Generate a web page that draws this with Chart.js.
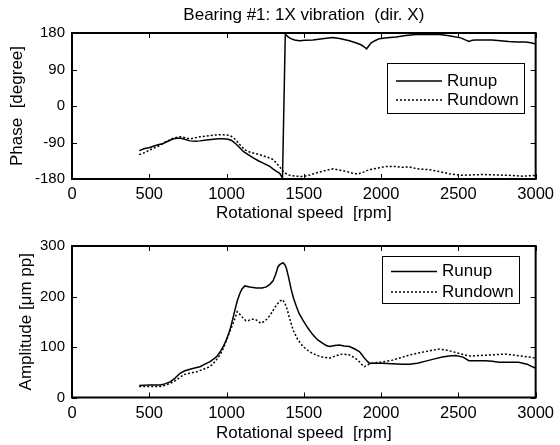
<!DOCTYPE html>
<html>
<head>
<meta charset="utf-8">
<script src="https://cdn.jsdelivr.net/npm/chart.js@4.4.0/dist/chart.umd.min.js"></script>
<style>
  body { margin: 0; background: #fff; }
  #wrap { position: relative; width: 560px; height: 445px; }
  .panel { position: absolute; left: 0; width: 560px; height: 225px; }
</style>
</head>
<body>
<div id="wrap">
  <div class="panel" style="top:0"><canvas id="phase-chart" width="560" height="225"></canvas></div>
  <div class="panel" style="top:220px"><canvas id="amp-chart" width="560" height="225"></canvas></div>
</div>
<script>
// tick values
const speedTicks = [0, 500, 1000, 1500, 2000, 2500, 3000];
const phaseTicks = [-180, -90, 0, 90, 180];
const ampTicks = [0, 100, 200, 300];

// phase, runup
const runupPhaseRpm = [435, 470, 499, 535, 564, 586, 620, 656, 699, 730, 764, 800, 828, 870, 914, 950, 979, 1010, 1033, 1065, 1090, 1108, 1140, 1173, 1205, 1237, 1260, 1280, 1300, 1323, 1344, 1362, 1380, 1400, 1416, 1440, 1472, 1510, 1559, 1620, 1687, 1740, 1795, 1835, 1870, 1890, 1906, 1920, 1934, 1960, 1988, 2040, 2096, 2160, 2225, 2311, 2380, 2440, 2515, 2545, 2568, 2590, 2611, 2660, 2719, 2770, 2826, 2880, 2933, 2970, 3000];
const runupPhaseDeg = [-110, -105, -103, -98, -95, -93, -87, -81, -79, -82, -86, -87, -86, -84, -82, -81, -81, -82, -85, -95, -105, -112, -120, -128, -135, -141, -145, -149, -155, -161, -166, -178, 177, 170, 166, 163, 161, 162, 163, 166, 169, 166, 161, 156, 151, 146, 141, 148, 155, 161, 166, 168, 170, 174, 176, 177, 176, 173, 168, 163, 159, 162, 163, 163, 163, 161, 159, 158, 158, 156, 153];

// phase, rundown
const rundownPhaseRpm = [435, 470, 499, 535, 564, 600, 630, 656, 699, 730, 764, 800, 828, 870, 914, 950, 979, 1010, 1033, 1055, 1076, 1100, 1119, 1145, 1173, 1205, 1237, 1270, 1301, 1323, 1344, 1366, 1390, 1409, 1450, 1494, 1540, 1580, 1630, 1687, 1730, 1773, 1810, 1848, 1885, 1924, 1980, 2031, 2090, 2139, 2182, 2235, 2311, 2380, 2440, 2515, 2580, 2654, 2740, 2826, 2911, 2960, 3000];
const rundownPhaseDeg = [-120, -115, -109, -103, -98, -90, -84, -79, -76, -78, -81, -78, -76, -74, -72, -71, -71, -72, -75, -82, -91, -101, -108, -113, -116, -119, -123, -127, -132, -141, -150, -161, -168, -171, -173, -174, -170, -165, -160, -155, -158, -161, -165, -168, -163, -157, -153, -149, -149, -151, -150, -155, -157, -162, -167, -171, -170, -169, -170, -171, -173, -172, -171];

// amplitude, runup
const runupAmpRpm = [435, 500, 571, 600, 635, 665, 699, 730, 764, 800, 828, 860, 893, 915, 936, 958, 979, 1000, 1022, 1040, 1054, 1070, 1086, 1100, 1118, 1150, 1194, 1230, 1258, 1280, 1301, 1318, 1333, 1344, 1365, 1377, 1387, 1400, 1419, 1435, 1452, 1470, 1494, 1525, 1559, 1590, 1623, 1645, 1666, 1700, 1731, 1760, 1795, 1830, 1859, 1875, 1892, 1910, 1924, 1960, 2010, 2070, 2139, 2182, 2235, 2289, 2340, 2396, 2440, 2483, 2530, 2568, 2620, 2676, 2720, 2762, 2830, 2890, 2944, 2970, 3000];
const runupAmpUm = [24, 25, 25, 27, 31, 38, 48, 53, 56, 59, 61, 66, 71, 76, 81, 90, 101, 115, 134, 155, 173, 192, 206, 215, 221, 219, 217, 217, 219, 224, 231, 244, 259, 263, 267, 263, 256, 240, 213, 195, 180, 166, 153, 138, 124, 114, 107, 103, 101, 103, 104, 102, 101, 96, 91, 85, 78, 72, 68, 68, 68, 67, 66, 66, 68, 72, 76, 80, 82, 83, 80, 73, 73, 73, 72, 70, 70, 70, 66, 62, 58];

// amplitude, rundown
const rundownAmpRpm = [435, 500, 571, 610, 657, 690, 721, 760, 807, 850, 893, 925, 957, 980, 1000, 1020, 1043, 1058, 1069, 1085, 1108, 1125, 1140, 1160, 1183, 1200, 1220, 1240, 1260, 1280, 1300, 1323, 1345, 1362, 1375, 1387, 1405, 1430, 1460, 1494, 1535, 1580, 1620, 1666, 1710, 1752, 1790, 1816, 1840, 1859, 1876, 1892, 1915, 1945, 2000, 2074, 2130, 2182, 2225, 2289, 2340, 2375, 2420, 2461, 2520, 2568, 2630, 2697, 2750, 2804, 2860, 2911, 2960, 3000];
const rundownAmpUm = [22, 22, 22, 25, 31, 38, 45, 48, 51, 56, 61, 71, 84, 98, 114, 130, 147, 160, 170, 165, 157, 152, 152, 155, 155, 152, 147, 150, 155, 162, 172, 183, 191, 194, 188, 180, 160, 134, 115, 101, 91, 84, 80, 78, 83, 86, 85, 81, 76, 71, 65, 61, 65, 68, 70, 74, 79, 84, 87, 91, 94, 96, 94, 91, 86, 82, 83, 84, 85, 86, 84, 82, 80, 78];

const FONT = '"Liberation Sans", Arial, sans-serif';
Chart.defaults.font.family = FONT;
Chart.defaults.font.size = 17;
Chart.defaults.color = '#000';

function toPoints(xs, ys) {
    return xs.map((x, i) => ({ x: x, y: ys[i] }));
}

function setTicks(values) {
    return scale => { scale.ticks = values.map(v => ({ value: v })); };
}

// MATLAB style box: inward ticks on all sides, frame, boxed legend
const boxPlugin = {
    id: 'matlabBox',
    afterDatasetsDraw(chart, args, opts) {
        const { ctx, chartArea: a, scales } = chart;
        ctx.save();
        ctx.strokeStyle = '#000';
        ctx.lineWidth = 1;
        ctx.beginPath();
        scales.x.ticks.forEach(t => {
            const px = Math.round(scales.x.getPixelForValue(t.value)) + 0.5;
            ctx.moveTo(px, a.bottom); ctx.lineTo(px, a.bottom - 5);
            ctx.moveTo(px, a.top); ctx.lineTo(px, a.top + 5);
        });
        scales.y.ticks.forEach(t => {
            const py = Math.round(scales.y.getPixelForValue(t.value)) + 0.5;
            ctx.moveTo(a.left, py); ctx.lineTo(a.left + 5, py);
            ctx.moveTo(a.right, py); ctx.lineTo(a.right - 5, py);
        });
        ctx.stroke();
        ctx.lineWidth = 2;
        ctx.strokeRect(a.left, a.top, a.width, a.height);

        const lg = opts.legend;
        ctx.fillStyle = '#fff';
        ctx.fillRect(lg.x, lg.y, lg.w, lg.h);
        ctx.lineWidth = 1;
        ctx.strokeRect(lg.x + 0.5, lg.y + 0.5, lg.w, lg.h);
        ctx.fillStyle = '#000';
        ctx.font = '17px ' + FONT;
        ctx.textBaseline = 'middle';
        chart.data.datasets.forEach((ds, i) => {
            const y = lg.y + lg.rows[i];
            ctx.setLineDash(ds.borderDash || []);
            ctx.lineWidth = ds.borderWidth;
            ctx.beginPath();
            ctx.moveTo(lg.x + 9, y);
            ctx.lineTo(lg.x + 55, y);
            ctx.stroke();
            ctx.setLineDash([]);
            ctx.fillText(ds.label, lg.x + 60, y);
        });
        ctx.restore();
    }
};

function lineSet(label, xs, ys, dashed) {
    return {
        label: label,
        data: toPoints(xs, ys),
        borderColor: '#000',
        borderWidth: 1.5,
        borderDash: dashed ? [2, 2] : [],
        pointRadius: 0,
        tension: 0,
        fill: false
    };
}

function axisX(height) {
    return {
        type: 'linear', min: 0, max: 3000,
        afterBuildTicks: setTicks(speedTicks),
        afterFit: s => { s.height = height; },
        grid: { display: false, drawTicks: false },
        border: { display: false },
        ticks: { padding: 6, maxRotation: 0, autoSkip: false, font: { size: 16.5 }, callback: v => String(v) },
        title: { display: true, text: 'Rotational speed  [rpm]', padding: { top: 0, bottom: 1.5 } }
    };
}

function axisY(min, max, ticks, title, titlePad) {
    return {
        min: min, max: max,
        afterBuildTicks: setTicks(ticks),
        afterFit: s => { s.width = 72; },
        grid: { display: false, drawTicks: false },
        border: { display: false },
        ticks: { padding: 7, autoSkip: false, font: { size: 15 }, callback: v => String(v) },
        title: { display: true, text: title, padding: { top: titlePad, bottom: 0 } }
    };
}

new Chart(document.getElementById('phase-chart'), {
    type: 'line',
    data: {
        datasets: [
            lineSet('Runup', runupPhaseRpm, runupPhaseDeg, false),
            lineSet('Rundown', rundownPhaseRpm, rundownPhaseDeg, true)
        ]
    },
    options: {
        responsive: false,
        animation: false,
        layout: { padding: { left: 0, right: 22, top: 0, bottom: 0 } },
        scales: {
            x: axisX(46),
            y: axisY(-180, 180, phaseTicks, 'Phase  [degree]', 7.5)
        },
        plugins: {
            legend: { display: false },
            tooltip: { enabled: false },
            title: {
                display: true,
                text: 'Bearing #1: 1X vibration  (dir. X)',
                fullSize: false,
                font: { size: 17, weight: 'normal' },
                color: '#000',
                padding: { top: 5, bottom: 7.6 }
            },
            matlabBox: { legend: { x: 387, y: 63, w: 137, h: 50, rows: [18, 37] } }
        }
    },
    plugins: [boxPlugin]
});

new Chart(document.getElementById('amp-chart'), {
    type: 'line',
    data: {
        datasets: [
            lineSet('Runup', runupAmpRpm, runupAmpUm, false),
            lineSet('Rundown', rundownAmpRpm, rundownAmpUm, true)
        ]
    },
    options: {
        responsive: false,
        animation: false,
        layout: { padding: { left: 0, right: 22, top: 26, bottom: 0 } },
        scales: {
            x: axisX(47.5),
            y: axisY(0, 300, ampTicks, 'Amplitude [\u03bcm pp]', 16.5)
        },
        plugins: {
            legend: { display: false },
            tooltip: { enabled: false },
            matlabBox: { legend: { x: 382, y: 36, w: 137, h: 47, rows: [15.5, 36] } }
        }
    },
    plugins: [boxPlugin]
});
</script>
</body>
</html>
